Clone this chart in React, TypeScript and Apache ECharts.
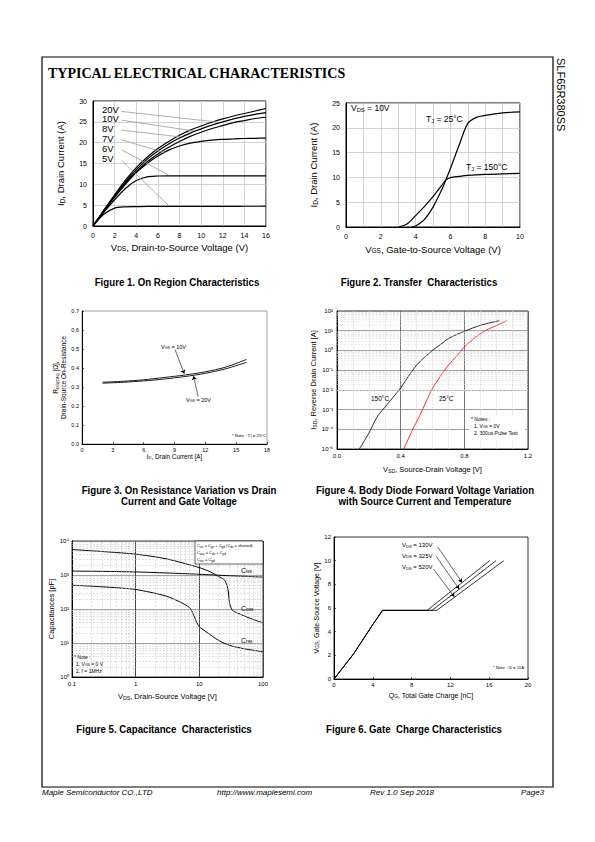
import React, { useEffect, useRef } from "react";
import * as echarts from "echarts";

// ---------- Figure 1 : On region characteristics ----------
const fig1Vds = [0, 1, 2, 3, 4, 5, 6, 7, 8, 9, 10, 11, 12, 13, 14, 15, 16];
const fig1Id20V = [0, 3.8, 7.5, 11, 14, 16.5, 18.6, 20.3, 21.8, 23, 24, 24.9, 25.7, 26.4, 27, 27.6, 28.2];
const fig1Id10V = [0, 3.7, 7.3, 10.6, 13.5, 16, 18, 19.7, 21.1, 22.3, 23.3, 24.2, 25, 25.7, 26.3, 26.8, 27.2];
const fig1Id8V = [0, 3.6, 7.1, 10.3, 13, 15.4, 17.3, 18.9, 20.3, 21.5, 22.5, 23.4, 24.1, 24.8, 25.3, 25.8, 26.1];
const fig1Id7V = [0, 3.5, 6.9, 10, 12.8, 15, 16.8, 18.2, 19.2, 19.9, 20.3, 20.6, 20.8, 20.9, 21, 21.05, 21.1];
const fig1Id6V = [0, 3.3, 6.3, 9, 10.9, 11.8, 12, 12.05, 12.05, 12.05, 12.05, 12.05, 12.05, 12.05, 12.05, 12.05, 12.05];
const fig1Id5V = [0, 2.8, 4.3, 4.6, 4.65, 4.7, 4.7, 4.7, 4.7, 4.7, 4.7, 4.72, 4.72, 4.72, 4.74, 4.74, 4.75];
const fig1Labels = ["20V", "10V", "8V", "7V", "6V", "5V"];

// ---------- Figure 2 : Transfer characteristics ----------
const fig2Vgs25 = [3.8, 4, 4.5, 5, 5.5, 5.75, 6, 6.5, 7, 7.5, 8, 9, 10];
const fig2Id25 = [0, 0.2, 1.5, 4, 7.5, 9.6, 11.8, 16.5, 20.9, 22.1, 22.5, 23, 23.2];
const fig2Vgs150 = [3.0, 3.5, 4, 4.5, 5, 5.5, 5.75, 6, 6.5, 7, 8, 9, 10];
const fig2Id150 = [0, 0.6, 2.3, 4.1, 6.1, 8.4, 9.5, 9.95, 10.2, 10.4, 10.6, 10.7, 10.8];

// ---------- Figure 3 : On resistance ----------
const fig3Id = [2, 4, 6, 8, 10, 12, 14, 16];
const fig3Rds10V = [0.325, 0.33, 0.338, 0.35, 0.363, 0.38, 0.405, 0.445];
const fig3Rds20V = [0.32, 0.325, 0.332, 0.342, 0.355, 0.372, 0.396, 0.43];

// ---------- Figure 4 : Body diode ----------
const fig4Vsd150 = [0.14, 0.2, 0.25, 0.3, 0.35, 0.4, 0.45, 0.5, 0.55, 0.6, 0.65, 0.7, 0.75, 0.8, 0.85, 0.9, 0.95, 1.02];
const fig4Isd150 = [1e-5, 6.3e-5, 4e-4, 1.3e-3, 4e-3, 1.26e-2, 5e-2, 0.18, 0.45, 1.0, 2.0, 4.0, 6.3, 9.3, 13.5, 18.6, 24, 32];
const fig4Vsd25 = [0.42, 0.47, 0.52, 0.56, 0.6, 0.65, 0.7, 0.75, 0.8, 0.85, 0.9, 0.95, 1.0, 1.066];
const fig4Isd25 = [1e-5, 8e-5, 5e-4, 2.5e-3, 1.2e-2, 5e-2, 0.18, 0.5, 1.5, 3.5, 7, 12, 18, 32];

// ---------- Figure 5 : Capacitance ----------
const fig5VdsOss = [0.1, 0.3, 1, 3, 10, 15, 20, 25, 28, 30, 33, 40, 60, 100];
const fig5Coss = [5600, 4900, 4100, 3000, 1650, 1230, 910, 700, 400, 145, 92, 76, 55, 39];
const fig5VdsIss = [0.1, 0.3, 1, 3, 10, 30, 100];
const fig5Ciss = [1300, 1280, 1230, 1150, 1050, 950, 870];
const fig5VdsRss = [0.1, 0.3, 1, 3, 5, 7, 8, 9, 10, 13, 20, 30, 50, 100];
const fig5Crss = [500, 450, 375, 240, 160, 110, 72, 42, 30, 21, 12, 8.5, 6.8, 5.5];

// ---------- Figure 6 : Gate charge ----------
const fig6Qg130 = [0, 2, 4, 5, 9.6, 16.05];
const fig6Vgs130 = [0, 2.1, 4.6, 5.8, 5.8, 10];
const fig6Qg325 = [0, 2, 4, 5, 10.1, 16.7];
const fig6Vgs325 = [0, 2.1, 4.6, 5.8, 5.8, 10];
const fig6Qg520 = [0, 2, 4, 5, 10.6, 17.5];
const fig6Vgs520 = [0, 2.1, 4.6, 5.8, 5.8, 10];

const FONT = "'Liberation Sans', Arial, sans-serif";
const SERIF = "'Liberation Serif', 'Times New Roman', serif";

const zip = (xs: number[], ys: number[]) => xs.map((x, i) => [x, ys[i]]);

const SUP: Record<string, string> = {
  "-": "\u207B", "0": "\u2070", "1": "\u00B9", "2": "\u00B2", "3": "\u00B3",
  "4": "\u2074", "5": "\u2075", "6": "\u2076", "7": "\u2077", "8": "\u2078", "9": "\u2079",
};
const decade = (v: number) =>
  "10" + String(Math.round(Math.log10(v))).split("").map((c) => SUP[c]).join("");

function rich(fs: number) {
  return {
    n: { fontSize: fs, fontFamily: FONT, color: "#000" },
    s: {
      fontSize: Math.max(3, Math.round(fs * 0.68 * 10) / 10),
      fontFamily: FONT,
      color: "#000",
      verticalAlign: "bottom",
      padding: [Math.round(fs * 0.35 * 10) / 10, 0, 0, 0],
    },
  };
}

function logMinor(fromExp: number, toExp: number) {
  const out: number[] = [];
  for (let e = fromExp; e < toExp; e++) {
    for (let k = 2; k <= 9; k++) out.push(k * Math.pow(10, e));
  }
  return out;
}

const blackLine = { show: true, onZero: false, lineStyle: { color: "#000", width: 1 } };

function buildOption(): any {
  const grid = [
    { left: 93, top: 101, width: 173, height: 125, show: true, borderColor: "#000", borderWidth: 1 },
    { left: 346, top: 103, width: 174, height: 124, show: true, borderColor: "#000", borderWidth: 1 },
    { left: 82, top: 311, width: 185, height: 133, show: true, borderColor: "#777", borderWidth: 0.7 },
    { left: 337, top: 311, width: 191, height: 138, show: true, borderColor: "#000", borderWidth: 0.8 },
    { left: 72, top: 541, width: 191, height: 136, show: true, borderColor: "#000", borderWidth: 0.8 },
    { left: 334, top: 537, width: 194, height: 142, show: true, borderColor: "#000", borderWidth: 0.8 },
  ];

  const xAxis: any[] = [
    {
      gridIndex: 0, type: "value", min: 0, max: 16, interval: 2,
      axisLine: blackLine, axisTick: { show: false },
      splitLine: { show: true, lineStyle: { color: "#c8c8c8", width: 0.8 } },
      axisLabel: { fontSize: 7, fontFamily: FONT, color: "#000", margin: 6 },
      name: "{n|V}{s|DS}{n|, Drain-to-Source Voltage (V)}",
      nameLocation: "middle", nameGap: 16, nameTextStyle: { rich: rich(9.5) },
    },
    {
      gridIndex: 1, type: "value", min: 0, max: 10, interval: 2,
      axisLine: blackLine, axisTick: { show: false },
      minorTick: { show: false, splitNumber: 2 },
      splitLine: { show: true, lineStyle: { color: "#c8c8c8", width: 0.8 } },
      minorSplitLine: { show: true, lineStyle: { color: "#c8c8c8", width: 0.8 } },
      axisLabel: { fontSize: 7, fontFamily: FONT, color: "#000", margin: 6 },
      name: "{n|V}{s|GS}{n|, Gate-to-Source Voltage (V)}",
      nameLocation: "middle", nameGap: 17, nameTextStyle: { rich: rich(9.5) },
    },
    {
      gridIndex: 2, type: "value", min: 0, max: 18, interval: 3,
      axisLine: blackLine, axisTick: { show: true, inside: true, length: 2, lineStyle: { color: "#000", width: 0.6 } },
      splitLine: { show: false },
      axisLabel: { fontSize: 5.5, fontFamily: FONT, color: "#000", margin: 3 },
      name: "{n|I}{s|D}{n|, Drain Current [A]}",
      nameLocation: "middle", nameGap: 9, nameTextStyle: { rich: rich(6.3) },
    },
    {
      gridIndex: 3, type: "value", min: 0, max: 1.2, interval: 0.4,
      axisLine: blackLine, axisTick: { show: false },
      minorTick: { show: false, splitNumber: 4 },
      splitLine: { show: true, lineStyle: { color: "#555", width: 0.8 } },
      minorSplitLine: { show: true, lineStyle: { color: "#dcdcdc", width: 0.6 } },
      axisLabel: { fontSize: 6, fontFamily: FONT, color: "#000", margin: 4, formatter: (v: number) => v.toFixed(1) },
      name: "{n|V}{s|SD}{n|, Source-Drain Voltage [V]}",
      nameLocation: "middle", nameGap: 16, nameTextStyle: { rich: rich(7.5) },
    },
    {
      gridIndex: 4, type: "log", logBase: 10, min: 0.1, max: 100, splitNumber: 3,
      axisLine: blackLine, axisTick: { show: false },
      splitLine: { show: true, lineStyle: { color: "#444", width: 1 } },
      axisLabel: {
        fontSize: 6, fontFamily: FONT, color: "#000", margin: 4,
        formatter: (v: number) => (v < 1 ? v.toFixed(1) : String(Math.round(v))),
      },
      name: "{n|V}{s|DS}{n|, Drain-Source Voltage [V]}",
      nameLocation: "middle", nameGap: 15, nameTextStyle: { rich: rich(7.5) },
    },
    {
      gridIndex: 5, type: "value", min: 0, max: 20, interval: 4,
      axisLine: blackLine, axisTick: { show: true, inside: true, length: 2, lineStyle: { color: "#000", width: 0.6 } },
      splitLine: { show: false },
      axisLabel: { fontSize: 6, fontFamily: FONT, color: "#000", margin: 3 },
      name: "{n|Q}{s|G}{n|, Total Gate Charge [nC]}",
      nameLocation: "middle", nameGap: 13, nameTextStyle: { rich: rich(7) },
    },
  ];

  const yAxis: any[] = [
    {
      gridIndex: 0, type: "value", min: 0, max: 30, interval: 5,
      axisLine: blackLine, axisTick: { show: false },
      splitLine: { show: true, lineStyle: { color: "#c8c8c8", width: 0.8 } },
      axisLabel: { fontSize: 7, fontFamily: FONT, color: "#000", margin: 6 },
      name: "{n|I}{s|D}{n|, Drain Current (A)}",
      nameLocation: "middle", nameGap: 27, nameTextStyle: { rich: rich(9.5) },
    },
    {
      gridIndex: 1, type: "value", min: 0, max: 25, interval: 5,
      axisLine: blackLine, axisTick: { show: false },
      splitLine: { show: true, lineStyle: { color: "#c8c8c8", width: 0.8 } },
      axisLabel: { fontSize: 7, fontFamily: FONT, color: "#000", margin: 6 },
      name: "{n|I}{s|D}{n|, Drain Current (A)}",
      nameLocation: "middle", nameGap: 27, nameTextStyle: { rich: rich(9.5) },
    },
    {
      gridIndex: 2, type: "value", min: 0, max: 0.7, interval: 0.1,
      axisLine: blackLine, axisTick: { show: true, inside: true, length: 2, lineStyle: { color: "#000", width: 0.6 } },
      splitLine: { show: false },
      axisLabel: { fontSize: 5.5, fontFamily: FONT, color: "#000", margin: 3, formatter: (v: number) => v.toFixed(1) },
      name: "{n|R}{s|DS(ON)}{n| [\u03A9],}\n{n|Drain-Source On-Resistance}",
      nameLocation: "middle", nameGap: 10, nameTextStyle: { rich: rich(6.5), lineHeight: 8 },
    },
    {
      gridIndex: 3, type: "log", logBase: 10, min: 1e-5, max: 100, splitNumber: 7,
      axisLine: blackLine, axisTick: { show: false },
      splitLine: { show: true, lineStyle: { color: "#8a8a8a", width: 0.8 } },
      axisLabel: { fontSize: 6, fontFamily: FONT, color: "#000", margin: 4, formatter: decade },
      name: "{n|I}{s|SD}{n|, Reverse Drain Current [A]}",
      nameLocation: "middle", nameGap: 17, nameTextStyle: { rich: rich(7.5) },
    },
    {
      gridIndex: 4, type: "log", logBase: 10, min: 1, max: 10000, splitNumber: 4,
      axisLine: blackLine, axisTick: { show: false },
      splitLine: { show: true, lineStyle: { color: "#8a8a8a", width: 0.8 } },
      axisLabel: { fontSize: 6, fontFamily: FONT, color: "#000", margin: 3, formatter: decade },
      name: "{n|Capacitances [pF]}",
      nameLocation: "middle", nameGap: 17, nameTextStyle: { rich: rich(7.5) },
    },
    {
      gridIndex: 5, type: "value", min: 0, max: 12, interval: 2,
      axisLine: blackLine, axisTick: { show: true, inside: true, length: 2, lineStyle: { color: "#000", width: 0.6 } },
      splitLine: { show: false },
      axisLabel: { fontSize: 6, fontFamily: FONT, color: "#000", margin: 3 },
      name: "{n|V}{s|GS}{n|, Gate-Source Voltage [V]}",
      nameLocation: "middle", nameGap: 10, nameTextStyle: { rich: rich(7) },
    },
  ];

  const curve = (gi: number, name: string, data: number[][], color = "#000", width = 1.2, smooth: any = 0.3) => ({
    type: "line", name, xAxisIndex: gi, yAxisIndex: gi, data, showSymbol: false, symbol: "none",
    smooth, lineStyle: { color, width }, z: 4, silent: true,
  });

  const lineMark = (gi: number, segs: number[][][], color: string, width: number, arrow: boolean) => ({
    type: "line", xAxisIndex: gi, yAxisIndex: gi, data: [], silent: true, z: 3,
    markLine: {
      silent: true, animation: false,
      symbol: arrow ? ["none", "arrow"] : ["none", "none"], symbolSize: 4,
      label: { show: false },
      lineStyle: { color, width, type: "solid" },
      data: segs.map(([a, b]) => [{ coord: a }, { coord: b }]),
    },
  });

  const gridMarks = (gi: number, xs: number[], ys: number[], color: string) => ({
    type: "line", xAxisIndex: gi, yAxisIndex: gi, data: [], silent: true, z: 1,
    markLine: {
      silent: true, animation: false, symbol: ["none", "none"], label: { show: false },
      lineStyle: { color, width: 0.5, type: [2, 1.5] },
      data: [...xs.map((v) => ({ xAxis: v })), ...ys.map((v) => ({ yAxis: v }))],
    },
  });

  const fig1Leaders = [
    [[2.63, 27.5], [11.3, 25.0]],
    [[2.63, 25.4], [9.35, 22.8]],
    [[2.63, 23.0], [8.0, 21.4]],
    [[2.63, 20.7], [6.6, 17.6]],
    [[2.63, 18.3], [7.0, 12.2]],
    [[2.63, 15.8], [7.0, 4.9]],
  ];
  const fig3Arrows = [
    [[9.05, 0.497], [9.95, 0.37]],
    [[11.3, 0.25], [10.85, 0.358]],
  ];
  const fig6Arrows = [
    [[10.7, 11.15], [13.2, 8.16]],
    [[10.55, 10.35], [12.9, 7.6]],
    [[10.25, 9.3], [12.4, 6.95]],
  ];

  const series: any[] = [
    // fig 1
    lineMark(0, fig1Leaders, "#9a9a9a", 0.8, false),
    curve(0, "20V", zip(fig1Vds, fig1Id20V)),
    curve(0, "10V", zip(fig1Vds, fig1Id10V)),
    curve(0, "8V", zip(fig1Vds, fig1Id8V)),
    curve(0, "7V", zip(fig1Vds, fig1Id7V)),
    curve(0, "6V", zip(fig1Vds, fig1Id6V)),
    curve(0, "5V", zip(fig1Vds, fig1Id5V)),
    // fig 2
    curve(1, "TJ=25C", zip(fig2Vgs25, fig2Id25)),
    curve(1, "TJ=150C", zip(fig2Vgs150, fig2Id150)),
    // fig 3
    curve(2, "VGS=10V", zip(fig3Id, fig3Rds10V), "#000", 0.9),
    curve(2, "VGS=20V", zip(fig3Id, fig3Rds20V), "#000", 0.9),
    lineMark(2, fig3Arrows, "#000", 0.6, true),
    // fig 4
    gridMarks(3, [], logMinor(-5, 2), "#d4d4d4"),
    curve(3, "150C", zip(fig4Vsd150, fig4Isd150), "#111", 0.9),
    curve(3, "25C", zip(fig4Vsd25, fig4Isd25), "#ff1a1a", 0.9),
    // fig 5
    gridMarks(4, logMinor(-1, 2), logMinor(0, 4), "#bdbdbd"),
    curve(4, "Coss", zip(fig5VdsOss, fig5Coss), "#000", 1, 0.25),
    curve(4, "Ciss", zip(fig5VdsIss, fig5Ciss), "#000", 1, 0.25),
    curve(4, "Crss", zip(fig5VdsRss, fig5Crss), "#000", 1, 0.25),
    // fig 6
    curve(5, "130V", zip(fig6Qg130, fig6Vgs130), "#000", 0.8, false),
    curve(5, "325V", zip(fig6Qg325, fig6Vgs325), "#000", 0.8, false),
    curve(5, "520V", zip(fig6Qg520, fig6Vgs520), "#000", 0.8, false),
    lineMark(5, fig6Arrows, "#000", 0.6, true),
  ];

  const txt = (x: number, y: number, text: string, fs: number, extra: any = {}) => ({
    type: "text", x, y, silent: true, z: 10,
    style: {
      text, fill: "#000", fontSize: fs, fontFamily: FONT,
      textVerticalAlign: "middle", verticalAlign: "middle", rich: rich(fs), ...extra,
    },
  });
  const caption = (x: number, y: number, text: string) => ({
    type: "text", x, y, silent: true, z: 10, scaleX: 0.88,
    style: {
      text, fill: "#000", fontSize: 11, fontFamily: FONT, fontWeight: "bold",
      align: "center", textAlign: "center", verticalAlign: "middle", textVerticalAlign: "middle",
    },
  });

  const graphic: any[] = [
    { type: "rect", shape: { x: 42, y: 57, width: 511, height: 730 }, style: { fill: "none", stroke: "#000", lineWidth: 1.2 }, silent: true },
    txt(48, 73, "TYPICAL ELECTRICAL CHARACTERISTICS", 14, { fontFamily: SERIF, fontWeight: "bold", rich: undefined }),
    {
      type: "text", x: 561, y: 58, rotation: -Math.PI / 2, silent: true,
      style: { text: "SLF65R380SS", fill: "#000", fontSize: 11, fontFamily: FONT, textVerticalAlign: "middle", verticalAlign: "middle" },
    },
    // fig 1 labels
    ...fig1Labels.map((t, i) => txt(102, 109 + i * 9.9, t, 9.5, { rich: undefined })),
    // fig 2 labels
    txt(351, 108, "{n|V}{s|DS}{n| = 10V}", 8.5),
    txt(426, 119, "{n|T}{s|J}{n| = 25\u00B0C}", 8.5),
    txt(466, 167, "{n|T}{s|J}{n| = 150\u00B0C}", 8.5),
    // fig 3 labels
    txt(161, 347, "{n|V}{s|GS}{n| = 10V}", 5.5),
    txt(186, 400, "{n|V}{s|GS}{n| = 20V}", 5.5),
    txt(232, 435, "{n|* Note : T}{s|J}{n| = 25\u00B0C}", 4.3),
    // fig 4 labels
    txt(371, 398, "150\u00B0C", 6.5, { rich: undefined }),
    txt(439, 398, "25\u00B0C", 6.5, { rich: undefined }),
    { type: "rect", shape: { x: 469, y: 415, width: 56, height: 26 }, style: { fill: "#fff", stroke: "none" }, silent: true, z: 9 },
    txt(471, 419, "* Notes :", 5, { rich: undefined }),
    txt(474, 426, "{n|1. V}{s|GS}{n| = 0V}", 5),
    txt(474, 433, "2. 300us Pulse Test", 5, { rich: undefined }),
    // fig 5 labels
    { type: "rect", shape: { x: 195, y: 541, width: 68, height: 23 }, style: { fill: "#fff", stroke: "#000", lineWidth: 0.6 }, silent: true, z: 9 },
    txt(197, 545.5, "{n|C}{s|iss}{n| = C}{s|gs}{n| + C}{s|gd}{n| (C}{s|ds}{n| = shorted)}", 4),
    txt(197, 552.5, "{n|C}{s|oss}{n| = C}{s|ds}{n| + C}{s|gd}", 4),
    txt(197, 559.5, "{n|C}{s|rss}{n| = C}{s|gd}", 4),
    txt(241, 570, "{n|C}{s|iss}", 7),
    txt(241, 608, "{n|C}{s|oss}", 7),
    txt(241, 640, "{n|C}{s|rss}", 7),
    txt(74, 657, "* Note :", 5, { rich: undefined }),
    txt(76, 664, "{n|1. V}{s|GS}{n| = 0 V}", 5),
    txt(76, 671, "2. f = 1MHz", 5, { rich: undefined }),
    // fig 6 labels
    txt(402, 545, "{n|V}{s|DS}{n| = 130V}", 6),
    txt(402, 555.5, "{n|V}{s|DS}{n| = 325V}", 6),
    txt(402, 567, "{n|V}{s|DS}{n| = 520V}", 6),
    txt(493, 667, "{n|* Note : I}{s|D}{n| = 11A}", 4.3),
    // captions
    caption(177, 282, "Figure 1. On Region Characteristics"),
    caption(419, 282, "Figure 2. Transfer  Characteristics"),
    caption(179, 490, "Figure 3. On Resistance Variation vs Drain"),
    caption(179, 501, "Current and Gate Voltage"),
    caption(425, 490, "Figure 4. Body Diode Forward Voltage Variation"),
    caption(425, 501, "with Source Current and Temperature"),
    caption(164, 729, "Figure 5. Capacitance  Characteristics"),
    caption(414, 729, "Figure 6. Gate  Charge Characteristics"),
    // footer
    txt(42, 792, "Maple Semiconductor CO.,LTD", 8, { fontStyle: "italic", rich: undefined }),
    txt(217, 792, "http://www.maplesemi.com", 8, { fontStyle: "italic", rich: undefined }),
    txt(370, 792, "Rev 1.0 Sep 2018", 8, { fontStyle: "italic", rich: undefined }),
    txt(521, 792, "Page3", 8, { fontStyle: "italic", rich: undefined }),
  ];

  return {
    animation: false,
    backgroundColor: "#fff",
    textStyle: { fontFamily: FONT },
    grid, xAxis, yAxis, series, graphic,
  };
}

export default function App() {
  const ref = useRef<HTMLDivElement>(null);
  useEffect(() => {
    const chart = echarts.init(ref.current!, null, { renderer: "svg" });
    chart.setOption(buildOption());
    return () => chart.dispose();
  }, []);
  return (
    <div
      ref={ref}
      style={{ position: "absolute", left: 0, top: 0, width: 595, height: 842, background: "#fff" }}
    />
  );
}
